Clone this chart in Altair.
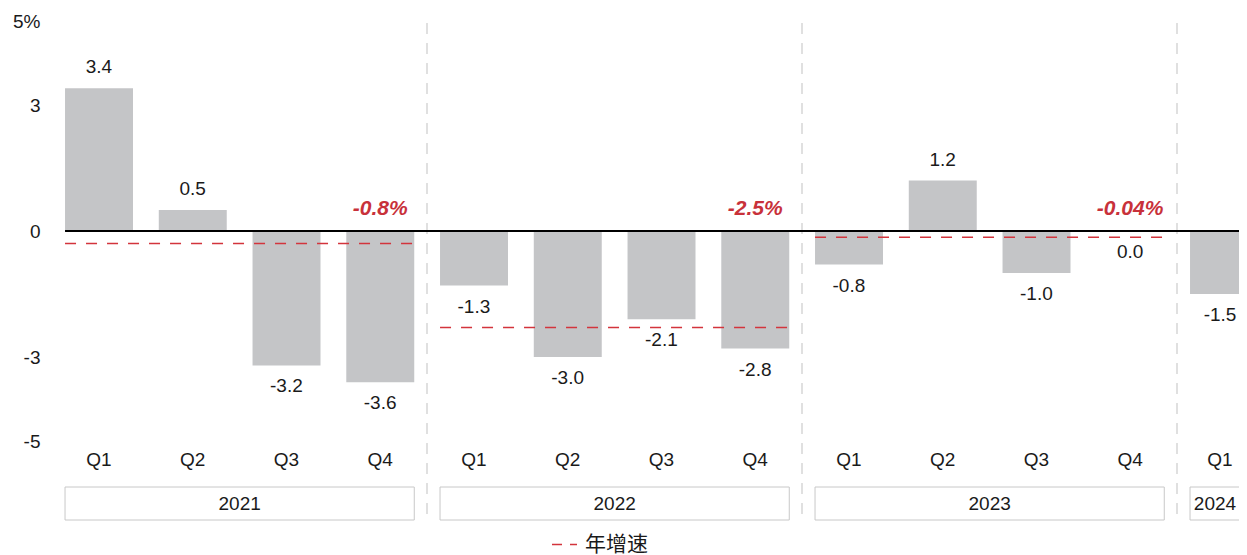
import altair as alt
import pandas as pd

# ---- data ----
quarters = ["Q1", "Q2", "Q3", "Q4", "Q1", "Q2", "Q3", "Q4", "Q1", "Q2", "Q3", "Q4", "Q1"]
years = ["2021"] * 4 + ["2022"] * 4 + ["2023"] * 4 + ["2024"]
values = [3.4, 0.5, -3.2, -3.6, -1.3, -3.0, -2.1, -2.8, -0.8, 1.2, -1.0, 0.0, -1.5]

annual_years = ["2021", "2022", "2023"]
annual_line = [-0.3, -2.3, -0.15]
annual_labels = ["-0.8%", "-2.5%", "-0.04%"]
legend_name = "年增速"

y_ticks = [5, 3, 0, -3, -5]

# ---- layout constants ----
PAD_L = 44
TOTAL_W = 1231
W = TOTAL_W - PAD_L
H = 420
STEP = 93.75
BAR_L = 0.139
BAR_R = 0.864
XMAX = W / STEP
FONT = "Liberation Sans, Arial, sans-serif"
FS = 19
RED = "#d3343c"
GRAY = "#c4c5c7"
INK = "#1a1a1a"

df = pd.DataFrame({"idx": list(range(len(values))), "quarter": quarters,
                   "year": years, "value": values})
df["x0"] = df["idx"] + BAR_L
df["x1"] = df["idx"] + BAR_R
df["xc"] = df["idx"] + 0.5
df["label"] = [f"{v:.1f}" for v in values]
# keep labels inside the visible area at the right edge
df["xt"] = df["xc"].clip(upper=XMAX - 19 / STEP)

grp = df.groupby("year", sort=False)["idx"].agg(["min", "max"]).reset_index()
grp["x0"] = grp["min"] + BAR_L
grp["x1"] = grp["max"] + BAR_R
grp["xc"] = ((grp["x0"] + grp["x1"]) / 2).clip(upper=XMAX - 24 / STEP)

sep = pd.DataFrame({"b": [float(v) for v in grp["min"].tolist()[1:]]})

ann = pd.DataFrame({"year": annual_years, "line": annual_line, "label": annual_labels})
ann = ann.merge(grp, on="year")
ann["xl"] = ann["max"] + 0.5
ann["series"] = legend_name

xs = alt.Scale(domain=[0, XMAX], nice=False, zero=False)
ys = alt.Scale(domain=[-5, 5], nice=False, zero=False)

base = alt.Chart(df)

bars = base.mark_rect(color=GRAY).encode(
    x=alt.X("x0:Q", scale=xs, axis=None),
    x2="x1:Q",
    y=alt.Y("value:Q", scale=ys, axis=alt.Axis(
        values=y_ticks, title=None, ticks=False, domain=False, grid=False,
        labelFontSize=FS, labelColor=INK, labelFont=FONT, labelPadding=12,
        labelExpr="datum.value == 5 ? '5%' : (datum.value < 0 ? '-' + abs(datum.value) : '' + datum.value)")),
    y2=alt.datum(0),
)

zero = alt.Chart(df).transform_aggregate(start="min(x0)").mark_rule(
    color="#000000", strokeWidth=2).encode(
    x=alt.X("start:Q", scale=xs, axis=None),
    x2=alt.value(W),
    y=alt.datum(0, scale=ys),
)

seps = alt.Chart(sep).mark_rule(color="#d6d6d6", strokeWidth=1.5, strokeDash=[11, 9]).encode(
    x=alt.X("b:Q", scale=xs, axis=None),
    y=alt.value(2),
    y2=alt.value(500),
)

red_lines = alt.Chart(ann).mark_rule(strokeWidth=1.5, strokeDash=[11, 10]).encode(
    x=alt.X("x0:Q", scale=xs, axis=None),
    x2="x1:Q",
    y=alt.Y("line:Q", scale=ys),
    color=alt.Color("series:N", scale=alt.Scale(domain=[legend_name], range=[RED]),
                    legend=alt.Legend(orient="none", legendX=499, legendY=510, title=None,
                                      symbolType="stroke", symbolDash=[10, 8], symbolSize=625,
                                      symbolStrokeWidth=1.5, labelFontSize=21,
                                      labelFont="Noto Sans CJK SC", labelColor=INK,
                                      labelOffset=7)),
)

pos_text = base.transform_filter("datum.value > 0").mark_text(
    fontSize=FS, font=FONT, color=INK, baseline="middle", dy=-21).encode(
    x=alt.X("xt:Q", scale=xs, axis=None), y=alt.Y("value:Q", scale=ys), text="label:N")

neg_text = base.transform_filter("datum.value <= 0").mark_text(
    fontSize=FS, font=FONT, color=INK, baseline="middle", dy=21).encode(
    x=alt.X("xt:Q", scale=xs, axis=None), y=alt.Y("value:Q", scale=ys), text="label:N")

ann_text = alt.Chart(ann).mark_text(
    fontSize=21, font=FONT, fontWeight="bold", fontStyle="italic", color="#c8313a",
    baseline="middle", dy=-22).encode(
    x=alt.X("xl:Q", scale=xs, axis=None), y=alt.datum(0, scale=ys), text="label:N")

q_text = base.mark_text(fontSize=FS, font=FONT, color=INK, baseline="middle").encode(
    x=alt.X("xt:Q", scale=xs, axis=None), y=alt.value(439), text="quarter:N")

boxes = alt.Chart(grp).mark_rect(fill="white", stroke="#c8c8c8", strokeWidth=1).encode(
    x=alt.X("x0:Q", scale=xs, axis=None), x2="x1:Q",
    y=alt.value(466), y2=alt.value(499))

year_text = alt.Chart(grp).mark_text(fontSize=FS, font=FONT, color=INK, baseline="middle").encode(
    x=alt.X("xc:Q", scale=xs, axis=None), y=alt.value(483), text="year:N")

chart = alt.layer(
    bars, seps, zero, red_lines, pos_text, neg_text, ann_text, q_text, boxes, year_text
).properties(
    width=W, height=H,
    background="white",
    autosize=alt.AutoSizeParams(type="none"),
    padding={"left": PAD_L, "top": 13, "right": 0, "bottom": 114},
).configure_view(strokeWidth=0)

chart.save("out.html", embed_options={"renderer": "svg", "actions": False})
